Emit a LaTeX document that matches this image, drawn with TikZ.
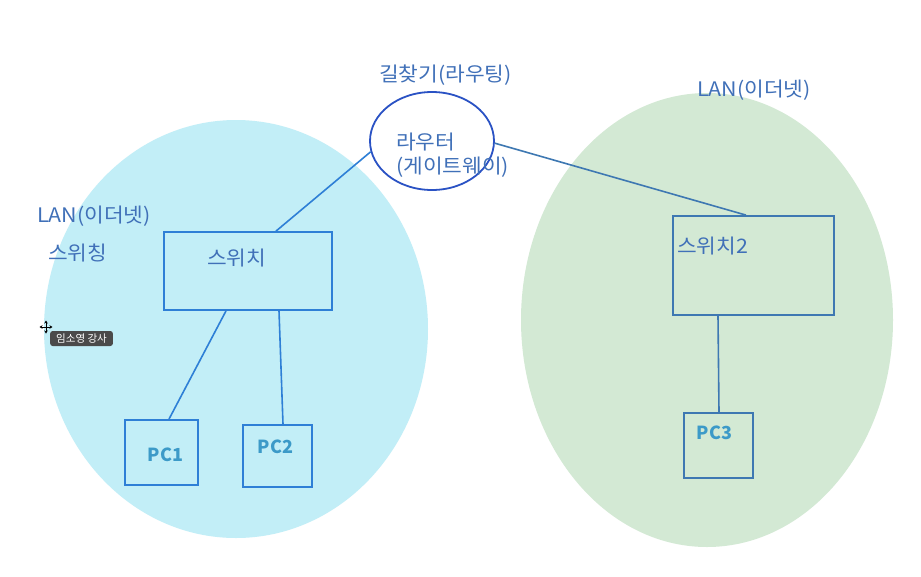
\documentclass[tikz,border=0pt]{standalone}
\usepackage{fontspec}
\newfontfamily\kr{Noto Sans CJK KR}
\usetikzlibrary{arrows.meta,shapes.geometric}
\definecolor{cyanfill}{HTML}{C2EEF7}
\definecolor{greenfill}{HTML}{D3E9D4}
\definecolor{routerline}{HTML}{2A52C4}
\definecolor{boxblue}{HTML}{2E7FD6}
\definecolor{steel}{HTML}{3E78B2}
\definecolor{txtblue}{HTML}{4070B8}
\definecolor{pcblue}{HTML}{3C9AC8}
\definecolor{tipgray}{HTML}{4A4A4A}
\newcommand{\wide}[1]{\scalebox{1.07}[1]{#1}}
\tikzset{
  lbl/.style={anchor=west,inner sep=0pt,font=\kr\fontsize{20}{24}\selectfont,text=txtblue},
  pclbl/.style={anchor=west,inner sep=0pt,font=\kr\fontsize{18}{22}\selectfont\bfseries,text=pcblue},
  boxl/.style={draw=boxblue,line width=1.8pt,rectangle,inner sep=0pt},
  boxr/.style={draw=steel,line width=1.8pt,rectangle,inner sep=0pt},
  link/.style={draw=boxblue,line width=1.6pt},
  linkr/.style={draw=steel,line width=1.6pt},
}
\begin{document}
\begin{tikzpicture}[x=1pt,y=-1pt]
\useasboundingbox[fill=white] (0,0) rectangle (921,576);
% LAN areas
\fill[cyanfill] (236,329) ellipse [x radius=192, y radius=209];
\fill[greenfill] (707,320) ellipse [x radius=186, y radius=227];
% router
\node[draw=routerline,fill=white,line width=1.8pt,ellipse,inner sep=0pt,minimum width=124pt,minimum height=98pt] (router) at (432,141) {};
% boxes
\node[boxl,minimum width=168pt,minimum height=78pt] (sw) at (248,271) {};
\node[boxl,minimum width=73pt,minimum height=65pt] (pc1) at (161.5,452.5) {};
\node[boxl,minimum width=69pt,minimum height=62pt] (pc2) at (277.5,456) {};
\node[boxr,minimum width=161pt,minimum height=99pt] (sw2) at (753.5,265.5) {};
\node[boxr,minimum width=69pt,minimum height=65pt] (pc3) at (718.5,445.5) {};
% links
\draw[link] (router.190) -- ([xshift=28pt]sw.north);
\draw[linkr] (router.358) -- ([xshift=-7.5pt]sw2.north);
\draw[link] ([xshift=-22pt]sw.south) -- ([xshift=7.5pt]pc1.north);
\draw[link] ([xshift=31pt]sw.south) -- ([xshift=5.5pt]pc2.north);
\draw[linkr] ([xshift=-35.5pt]sw2.south) -- ([xshift=0.5pt]pc3.north);
% labels
\node[lbl] (t1) at (379,75) {\wide{길찾기(라우팅)}};
\node[lbl] (t2) at (396,142) {\wide{라우터}};
\node[lbl] (t3) at (396,167) {\wide{(게이트웨이)}};
\node[lbl] (t4) at (37,216) {\wide{LAN(이더넷)}};
\node[lbl] (t5) at (48,253) {\wide{스위칭}};
\node[lbl] (t6) at (207,258) {\wide{스위치}};
\node[lbl] (t7) at (697,90) {\wide{LAN(이더넷)}};
\node[lbl] (t8) at (677,246) {\wide{스위치2}};
\node[pclbl] (p1) at (147.5,455) {PC1};
\node[pclbl] (p2) at (257.5,447) {PC2};
\node[pclbl] (p3) at (696.5,433) {PC3};
% tooltip
\node[fill=tipgray,rounded corners=2.5pt,text=white,inner xsep=6pt,inner ysep=0pt,minimum height=15pt,anchor=west,font=\kr\fontsize{10.5}{12}\selectfont] (tip) at (50,338.5) {임소영 강사};
\coordinate (cur) at (46,327);
\begin{scope}[line width=1pt,-{Stealth[length=3pt,width=3.5pt]}]
\draw (cur) -- ++(0,-6.5);
\draw (cur) -- ++(0,6.5);
\draw (cur) -- ++(-6.5,0);
\draw (cur) -- ++(6.5,0);
\end{scope}
\end{tikzpicture}
\end{document}
